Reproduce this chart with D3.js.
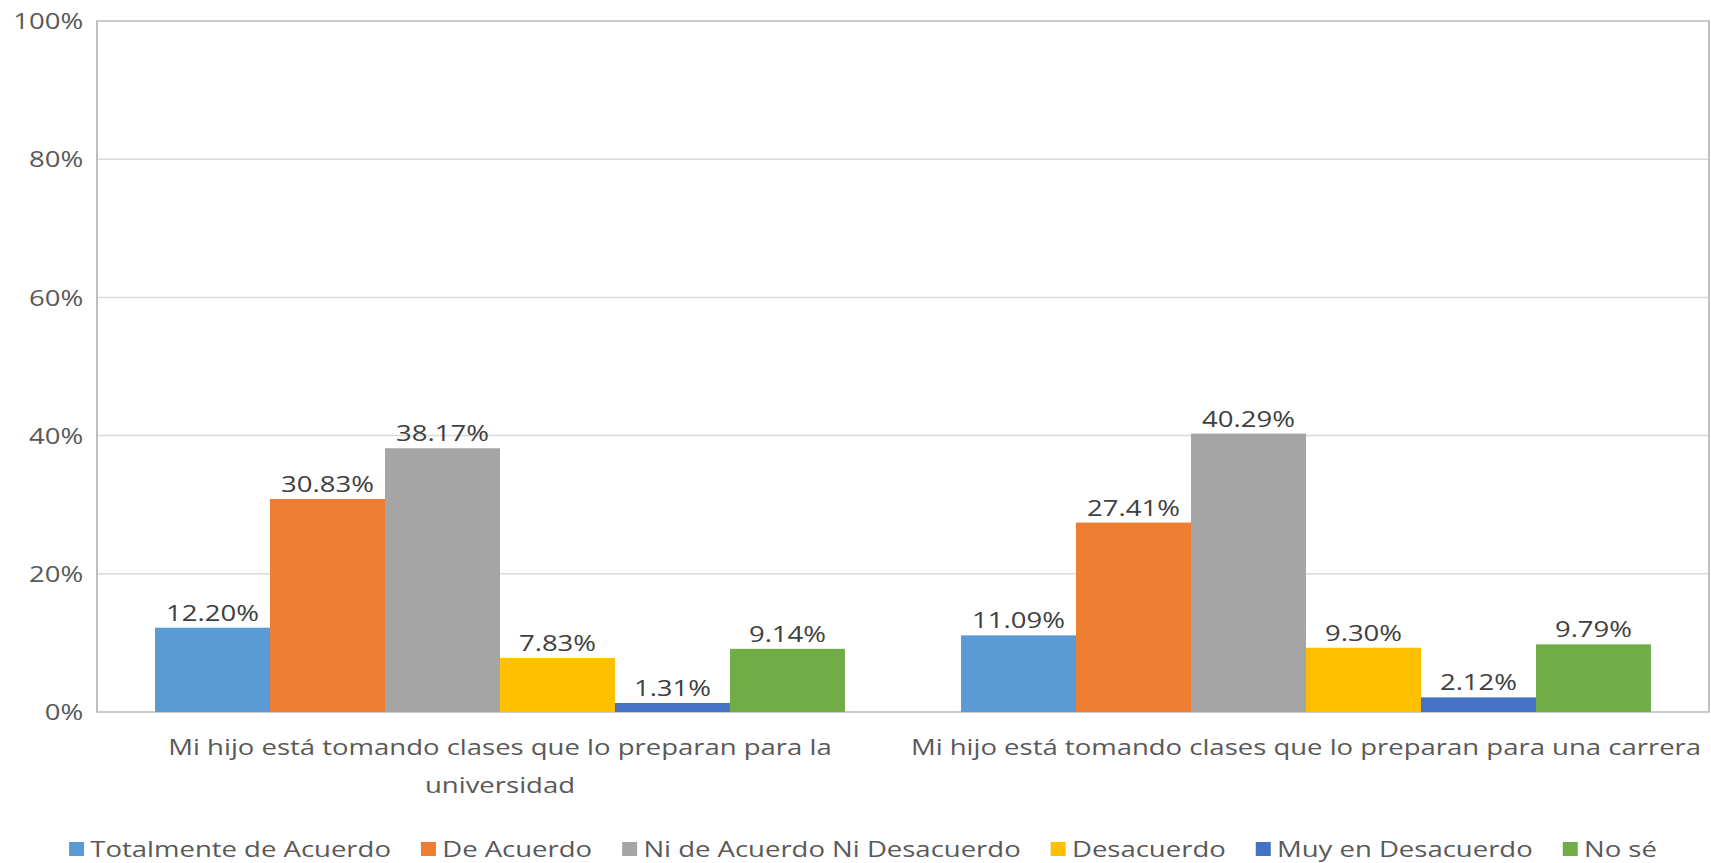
<!DOCTYPE html>
<html>
<head>
<meta charset="utf-8">
<script src="https://cdn.jsdelivr.net/npm/d3@7"></script>
<style>
    html, body { margin: 0; padding: 0; background: #fff; }
    #chart { width: 1711px; height: 863px; }
    text { font-family: "Open Sans", "Noto Sans", sans-serif; }
</style>
</head>
<body>
<div id="chart"></div>
<script>
// datos del gráfico
const categories = [
    "Mi hijo está tomando clases que lo preparan para la universidad",
    "Mi hijo está tomando clases que lo preparan para una carrera"
];
const categoryLines = [
    ["Mi hijo está tomando clases que lo preparan para la", "universidad"],
    ["Mi hijo está tomando clases que lo preparan para una carrera"]
];
const series = [
    "Totalmente de Acuerdo",
    "De Acuerdo",
    "Ni de Acuerdo Ni Desacuerdo",
    "Desacuerdo",
    "Muy en Desacuerdo",
    "No sé"
];
const universidad = [0.1220, 0.3083, 0.3817, 0.0783, 0.0131, 0.0914];
const carrera = [0.1109, 0.2741, 0.4029, 0.0930, 0.0212, 0.0979];
const yTicks = [0, 0.2, 0.4, 0.6, 0.8, 1];

const colors = ["#5b9bd5", "#ed7d31", "#a5a5a5", "#ffc000", "#4472c4", "#70ad47"];

function drawChart() {
    const width = 1711;
    const height = 863;
    // el original está estirado en horizontal
    const sx = 1.25;
    const iw = width / sx;
    const margin = { top: 21, bottom: 712, left: 97 / sx, right: 1709 / sx };

    d3.select("#chart").selectAll("*").remove();

    const svg = d3.select("#chart")
        .append("svg")
        .attr("width", width)
        .attr("height", height)
        .attr("viewBox", `0 0 ${iw} ${height}`)
        .attr("preserveAspectRatio", "none");

    const rows = categories.map((c, i) => ({
        category: c,
        values: [universidad, carrera][i]
    }));

    const x0 = d3.scaleBand()
        .domain(categories)
        .range([margin.left, margin.right])
        .paddingInner(0.144)
        .paddingOuter(0.072);

    const x1 = d3.scaleBand()
        .domain(series)
        .range([0, x0.bandwidth()]);

    const y = d3.scaleLinear()
        .domain([0, 1])
        .range([margin.bottom, margin.top]);

    // líneas de cuadrícula
    svg.append("g")
        .selectAll("line")
        .data(yTicks.slice(1, -1))
        .enter()
        .append("line")
        .attr("x1", margin.left)
        .attr("x2", margin.right)
        .attr("y1", d => y(d))
        .attr("y2", d => y(d))
        .attr("stroke", "#d9d9d9")
        .attr("stroke-width", 1.5);

    // marco del área de trazado
    svg.append("rect")
        .attr("x", margin.left)
        .attr("y", margin.top)
        .attr("width", margin.right - margin.left)
        .attr("height", margin.bottom - margin.top)
        .attr("fill", "none")
        .attr("stroke", "#bfbfbf")
        .attr("stroke-width", 1.6);

    // eje Y
    const yAxis = svg.append("g")
        .attr("transform", `translate(${66.5},0)`)
        .call(d3.axisLeft(y).tickValues(yTicks).tickFormat(d3.format(".0%")).tickSize(0).tickPadding(0));
    yAxis.select(".domain").remove();
    yAxis.selectAll("text")
        .attr("fill", "#595959")
        .attr("font-size", "22px")
        .attr("dy", "0.35em");

    // barras
    const groups = svg.selectAll(".grupo")
        .data(rows)
        .enter()
        .append("g")
        .attr("class", "grupo")
        .attr("transform", d => `translate(${x0(d.category)},0)`);

    groups.selectAll("rect")
        .data(d => d.values.map((v, i) => ({ key: series[i], value: v, i: i })))
        .enter()
        .append("rect")
        .attr("x", d => x1(d.key))
        .attr("y", d => y(d.value))
        .attr("width", x1.bandwidth())
        .attr("height", d => y(0) - y(d.value))
        .attr("fill", d => colors[d.i]);

    groups.selectAll(".valor")
        .data(d => d.values.map((v, i) => ({ key: series[i], value: v })))
        .enter()
        .append("text")
        .attr("class", "valor")
        .attr("x", d => x1(d.key) + x1.bandwidth() / 2)
        .attr("y", d => y(d.value) - 7)
        .attr("text-anchor", "middle")
        .attr("fill", "#404040")
        .attr("font-size", "22px")
        .text(d => d3.format(".2%")(d.value));

    // etiquetas de categoría
    categories.forEach((c, i) => {
        const t = svg.append("text")
            .attr("text-anchor", "middle")
            .attr("fill", "#595959")
            .attr("font-size", "22px");
        categoryLines[i].forEach((line, j) => {
            t.append("tspan")
                .attr("x", x0(c) + x0.bandwidth() / 2)
                .attr("y", 755 + j * 38)
                .text(line);
        });
    });

    // leyenda
    const legend = svg.append("g");
    const sq = 12;
    const gap = 5;
    const spacing = 24;
    let pos = 0;
    series.forEach((s, i) => {
        const item = legend.append("g").attr("transform", `translate(${pos},0)`);
        item.append("rect")
            .attr("x", 0)
            .attr("y", 842)
            .attr("width", sq)
            .attr("height", 14)
            .attr("fill", colors[i]);
        const label = item.append("text")
            .attr("x", sq + gap)
            .attr("y", 857)
            .attr("fill", "#595959")
            .attr("font-size", "22px")
            .text(s);
        pos += sq + gap + label.node().getComputedTextLength() + spacing;
    });
    const total = pos - spacing;
    legend.attr("transform", `translate(${863 / sx - total / 2},0)`);
}

window.addEventListener('load', drawChart);
</script>
</body>
</html>
